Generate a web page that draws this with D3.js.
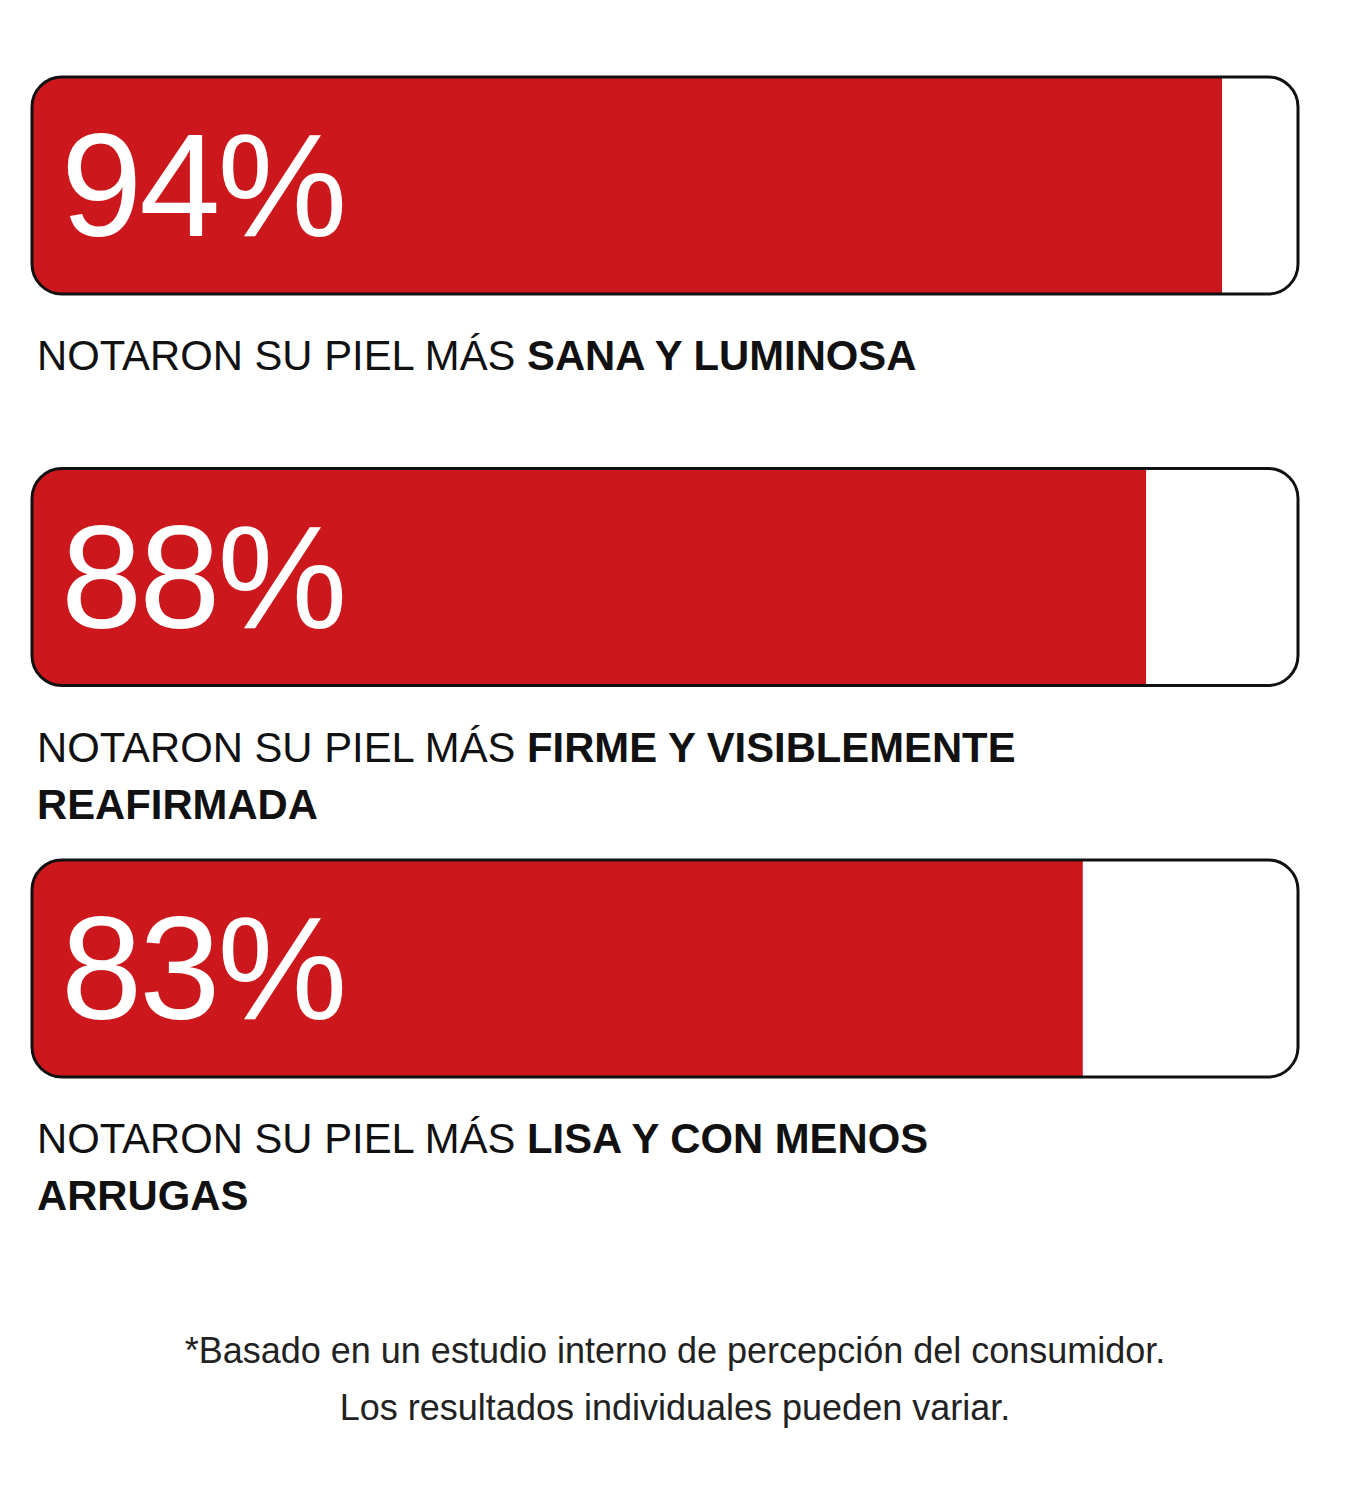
<!DOCTYPE html>
<html>
<head>
<meta charset="utf-8">
<script src="https://cdn.jsdelivr.net/npm/d3@7"></script>
<style>
  body { margin: 0; background: #fff; }
  svg { display: block; font-family: "Liberation Sans", Arial, Helvetica, sans-serif; }
</style>
</head>
<body>
<div class="svg-container"></div>
<script>
const values = [94, 88, 83];
const prefix = "NOTARON SU PIEL MÁS ";
const highlights = ["SANA Y LUMINOSA", "FIRME Y VISIBLEMENTE REAFIRMADA", "LISA Y CON MENOS ARRUGAS"];
const footnote = [
  "*Basado en un estudio interno de percepción del consumidor.",
  "Los resultados individuales pueden variar."
];

const width = 1350, height = 1500;
const margin = { left: 32, right: 52, top: 77 };
const barH = 217, step = 391.5, radius = 30;
const red = "#cc181c";
const maxLine = 1100;

const x = d3.scaleLinear().domain([0, 100]).range([margin.left, width - margin.right]);
const y = d3.scaleLinear().domain([0, 1]).range([margin.top, margin.top + step]);

const svg = d3.select("div.svg-container")
  .append("svg")
  .attr("width", width)
  .attr("height", height)
  .style("background-color", "#fff");

const defs = svg.append("defs");
defs.selectAll("clipPath")
  .data(values)
  .join("clipPath")
  .attr("id", (d, i) => `clip${i}`)
  .append("rect")
  .attr("x", x(0))
  .attr("y", (d, i) => y(i))
  .attr("width", x(100) - x(0))
  .attr("height", barH)
  .attr("rx", radius);

const bar = svg.append("g")
  .selectAll("g")
  .data(values)
  .join("g");

bar.append("rect")
  .attr("clip-path", (d, i) => `url(#clip${i})`)
  .attr("x", x(0))
  .attr("y", (d, i) => y(i))
  .attr("width", d => x(d) - x(0))
  .attr("height", barH)
  .attr("fill", red);

bar.append("rect")
  .attr("x", x(0))
  .attr("y", (d, i) => y(i))
  .attr("width", x(100) - x(0))
  .attr("height", barH)
  .attr("rx", radius)
  .attr("fill", "none")
  .attr("stroke", "#111")
  .attr("stroke-width", 3);

bar.append("text")
  .attr("x", x(0) + 29)
  .attr("y", (d, i) => y(i) + 159)
  .attr("fill", "#fff")
  .attr("font-size", 146)
  .attr("letter-spacing", -3)
  .text(d => `${d}%`);

// labels: normal prefix + bold words, wrapped at maxLine
const labels = svg.append("g")
  .attr("font-size", 41.8)
  .attr("fill", "#111");

highlights.forEach((h, i) => {
  const base = y(i) + barH + 76;
  const measure = labels.append("text").attr("visibility", "hidden");
  const words = [{ t: prefix.trim(), bold: false }]
    .concat(h.split(" ").map(w => ({ t: w, bold: true })));
  let lines = [[]];
  words.forEach(w => {
    const line = lines[lines.length - 1].concat(w);
    measure.selectAll("tspan").remove();
    line.forEach((p, k) => measure.append("tspan")
      .attr("font-weight", p.bold ? "bold" : "normal")
      .text((k ? " " : "") + p.t));
    if (measure.node().getComputedTextLength() > maxLine && lines[lines.length - 1].length) {
      lines.push([w]);
    } else {
      lines[lines.length - 1] = line;
    }
  });
  measure.remove();
  lines.forEach((line, li) => {
    const t = labels.append("text")
      .attr("x", 37)
      .attr("y", base + li * 57);
    line.forEach((p, k) => t.append("tspan")
      .attr("font-weight", p.bold ? "bold" : "normal")
      .text((k ? " " : "") + p.t));
  });
});

svg.append("g")
  .attr("font-size", 36)
  .attr("fill", "#222")
  .attr("text-anchor", "middle")
  .selectAll("text")
  .data(footnote)
  .join("text")
  .attr("x", width / 2)
  .attr("y", (d, i) => 1363 + i * 57)
  .text(d => d);
</script>
</body>
</html>
